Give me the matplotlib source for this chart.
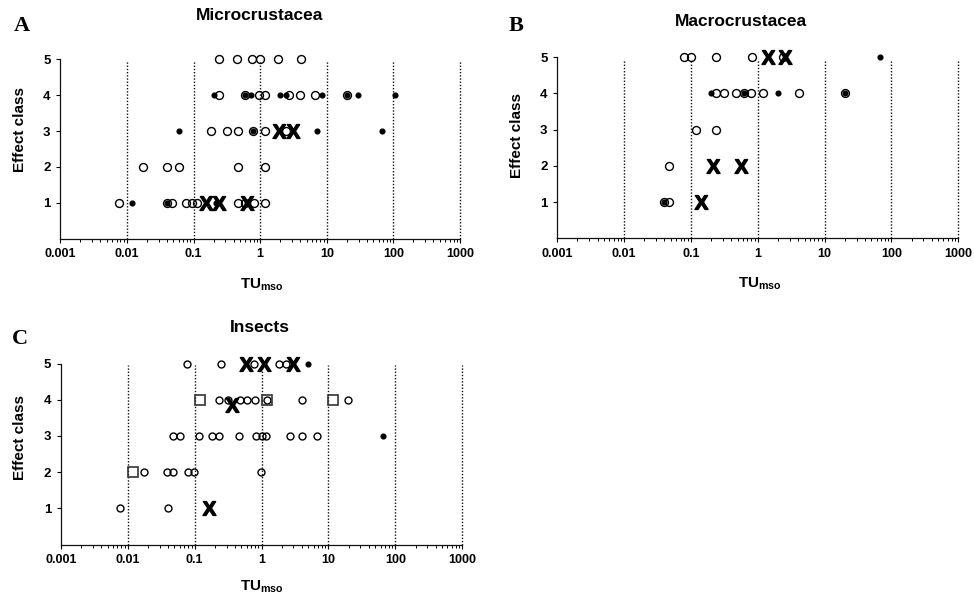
import matplotlib

matplotlib.use("Agg")
import matplotlib.pyplot as plt
from matplotlib.ticker import LogLocator, NullFormatter

plt.rcParams["font.family"] = ["Liberation Sans", "DejaVu Sans"]
plt.rcParams["mathtext.fontset"] = "custom"
plt.rcParams["mathtext.rm"] = "Liberation Sans"
plt.rcParams["mathtext.bf"] = "Liberation Sans:bold"

W, H = 974, 600

X_TICKS = [0.001, 0.01, 0.1, 1, 10, 100, 1000]
X_TICK_LABELS = ["0.001", "0.01", "0.1", "1", "10", "100", "1000"]
Y_TICKS = [1, 2, 3, 4, 5]

# (TU_mso, effect class) pairs
A_CIRCLES = [
    (0.244, 5), (0.45, 5), (0.755, 5), (1.0, 5), (1.84, 5), (4.1, 5),
    (0.239, 4), (0.60, 4), (0.97, 4), (1.19, 4), (2.69, 4), (3.97, 4), (6.67, 4), (20, 4),
    (0.183, 3), (0.315, 3), (0.471, 3), (0.79, 3), (1.19, 3), (2.42, 3),
    (0.0176, 2), (0.0396, 2), (0.0605, 2), (0.471, 2), (1.19, 2),
    (0.0076, 1), (0.0405, 1), (0.047, 1), (0.077, 1), (0.094, 1), (0.114, 1),
    (0.47, 1), (0.59, 1), (0.82, 1), (1.19, 1),
]
A_DOTS = [
    (0.203, 4), (0.60, 4), (0.72, 4), (1.99, 4), (2.45, 4), (8.4, 4), (20, 4), (29.8, 4), (105, 4),
    (0.0605, 3), (0.79, 3), (7.07, 3), (68.4, 3),
    (0.012, 1), (0.0405, 1), (0.215, 1),
]
A_CROSSES = [(1.92, 3), (3.08, 3), (0.153, 1), (0.24, 1), (0.64, 1)]
A_SQUARES = []

B_CIRCLES = [
    (0.079, 5), (0.1, 5), (0.237, 5), (0.82, 5), (2.36, 5),
    (0.237, 4), (0.31, 4), (0.472, 4), (0.615, 4), (0.80, 4), (1.20, 4), (4.09, 4), (20.2, 4),
    (0.12, 3), (0.237, 3),
    (0.0474, 2),
    (0.0395, 1), (0.0474, 1),
]
B_DOTS = [(67.4, 5), (0.197, 4), (0.615, 4), (2.03, 4), (20.2, 4), (0.0395, 1)]
B_CROSSES = [(1.40, 5), (2.55, 5), (0.216, 2), (0.555, 2), (0.143, 1)]
B_SQUARES = []

C_CIRCLES = [
    (0.0762, 5), (0.245, 5), (0.764, 5), (1.83, 5), (2.30, 5),
    (0.234, 4), (0.312, 4), (0.477, 4), (0.614, 4), (0.80, 4), (1.2, 4), (3.99, 4), (19.9, 4),
    (0.047, 3), (0.0605, 3), (0.117, 3), (0.18, 3), (0.234, 3), (0.466, 3),
    (0.83, 3), (1.007, 3), (1.17, 3), (2.67, 3), (4.07, 3), (6.68, 3),
    (0.0177, 2), (0.039, 2), (0.047, 2), (0.0805, 2), (0.099, 2), (0.98, 2),
    (0.00767, 1), (0.0396, 1),
]
C_DOTS = [(5.0, 5), (66.2, 3)]
C_CROSSES = [(0.58, 5), (1.09, 5), (2.93, 5), (0.366, 3.85), (0.166, 1)]
C_SQUARES = [(0.12, 4), (1.2, 4), (11.8, 4), (0.0119, 2)]


def px_rect(left, top, right, bottom):
    return [left / W, 1 - bottom / H, (right - left) / W, (bottom - top) / H]


def split(points):
    return [p[0] for p in points], [p[1] for p in points]


def draw_panel(fig, rect, circles, dots, crosses, squares, csize):
    ax = fig.add_axes(rect)
    ax.set_xscale("log")
    ax.set_xlim(0.001, 1000)
    ax.set_ylim(0, 5)

    for v in X_TICKS[1:]:
        ax.axvline(v, ymax=0.99, color="#111111", lw=1.0, ls=(0, (1, 1.3)),
                   zorder=1, clip_on=False)

    if dots:
        x, y = split(dots)
        ax.plot(x, y, ls="none", marker="o", ms=3.4, color="black", zorder=3, clip_on=False)
    if circles:
        x, y = split(circles)
        ax.plot(x, y, ls="none", marker="o", ms=csize, mfc="none", mec="black",
                mew=1.0, zorder=4, clip_on=False)
    if squares:
        x, y = split(squares)
        ax.plot(x, y, ls="none", marker="s", ms=7.5, mfc="none", mec="#333333",
                mew=1.2, zorder=4, clip_on=False)
    if crosses:
        x, y = split(crosses)
        ax.plot(x, y, ls="none", marker=r"$\mathbf{X}$", ms=10, color="black",
                zorder=5, clip_on=False)

    for side in ("top", "right"):
        ax.spines[side].set_visible(False)
    for side in ("left", "bottom"):
        ax.spines[side].set_linewidth(0.9)
        ax.spines[side].set_color("#111111")

    ax.set_xticks(X_TICKS, X_TICK_LABELS, fontweight="bold", fontsize=9)
    ax.set_yticks(Y_TICKS, [str(t) for t in Y_TICKS], fontweight="bold", fontsize=9.5)
    ax.xaxis.set_minor_locator(LogLocator(base=10, subs=range(2, 10), numticks=20))
    ax.xaxis.set_minor_formatter(NullFormatter())
    ax.tick_params(axis="both", which="major", direction="out", length=3, width=0.8, pad=4)
    ax.tick_params(axis="x", which="minor", direction="out", length=2.5, width=0.7)
    return ax


def fig_text(fig, x, y, s, **kw):
    fig.text(x / W, 1 - y / H, s, **kw)


def main():
    fig = plt.figure(figsize=(W / 100, H / 100), dpi=100)

    draw_panel(fig, px_rect(60.3, 59.3, 460, 238.7), A_CIRCLES, A_DOTS, A_CROSSES, A_SQUARES, 5.7)
    draw_panel(fig, px_rect(557.3, 57.3, 958.3, 238.3), B_CIRCLES, B_DOTS, B_CROSSES, B_SQUARES, 5.7)
    draw_panel(fig, px_rect(60.8, 363.5, 462.3, 544.5), C_CIRCLES, C_DOTS, C_CROSSES, C_SQUARES, 5.0)

    title_kw = dict(ha="center", va="center", fontsize=12.5, fontweight="bold")
    fig_text(fig, 260, 15, "Microcrustacea", **title_kw)
    fig_text(fig, 741, 21, "Macrocrustacea", **title_kw)
    fig_text(fig, 260, 327, "Insects", **title_kw)

    letter_kw = dict(ha="center", va="center", fontsize=16, fontweight="bold",
                     family="Liberation Serif")
    fig_text(fig, 22, 26, "A", **letter_kw)
    fig_text(fig, 516, 26, "B", **letter_kw)
    fig_text(fig, 20, 339, "C", **letter_kw)

    ylab_kw = dict(ha="center", va="center", rotation=90, fontsize=11, fontweight="bold")
    fig_text(fig, 20, 130, "Effect class", **ylab_kw)
    fig_text(fig, 517, 135, "Effect class", **ylab_kw)
    fig_text(fig, 20, 437, "Effect class", **ylab_kw)

    xlab = r"$\mathbf{TU}_{\mathbf{mso}}$"
    xlab_kw = dict(ha="center", va="top", fontsize=11)
    fig_text(fig, 262, 276, xlab, **xlab_kw)
    fig_text(fig, 760, 275, xlab, **xlab_kw)
    fig_text(fig, 262, 578, xlab, **xlab_kw)

    fig.savefig("out.png", dpi=100)
    plt.close(fig)


if __name__ == "__main__":
    main()
